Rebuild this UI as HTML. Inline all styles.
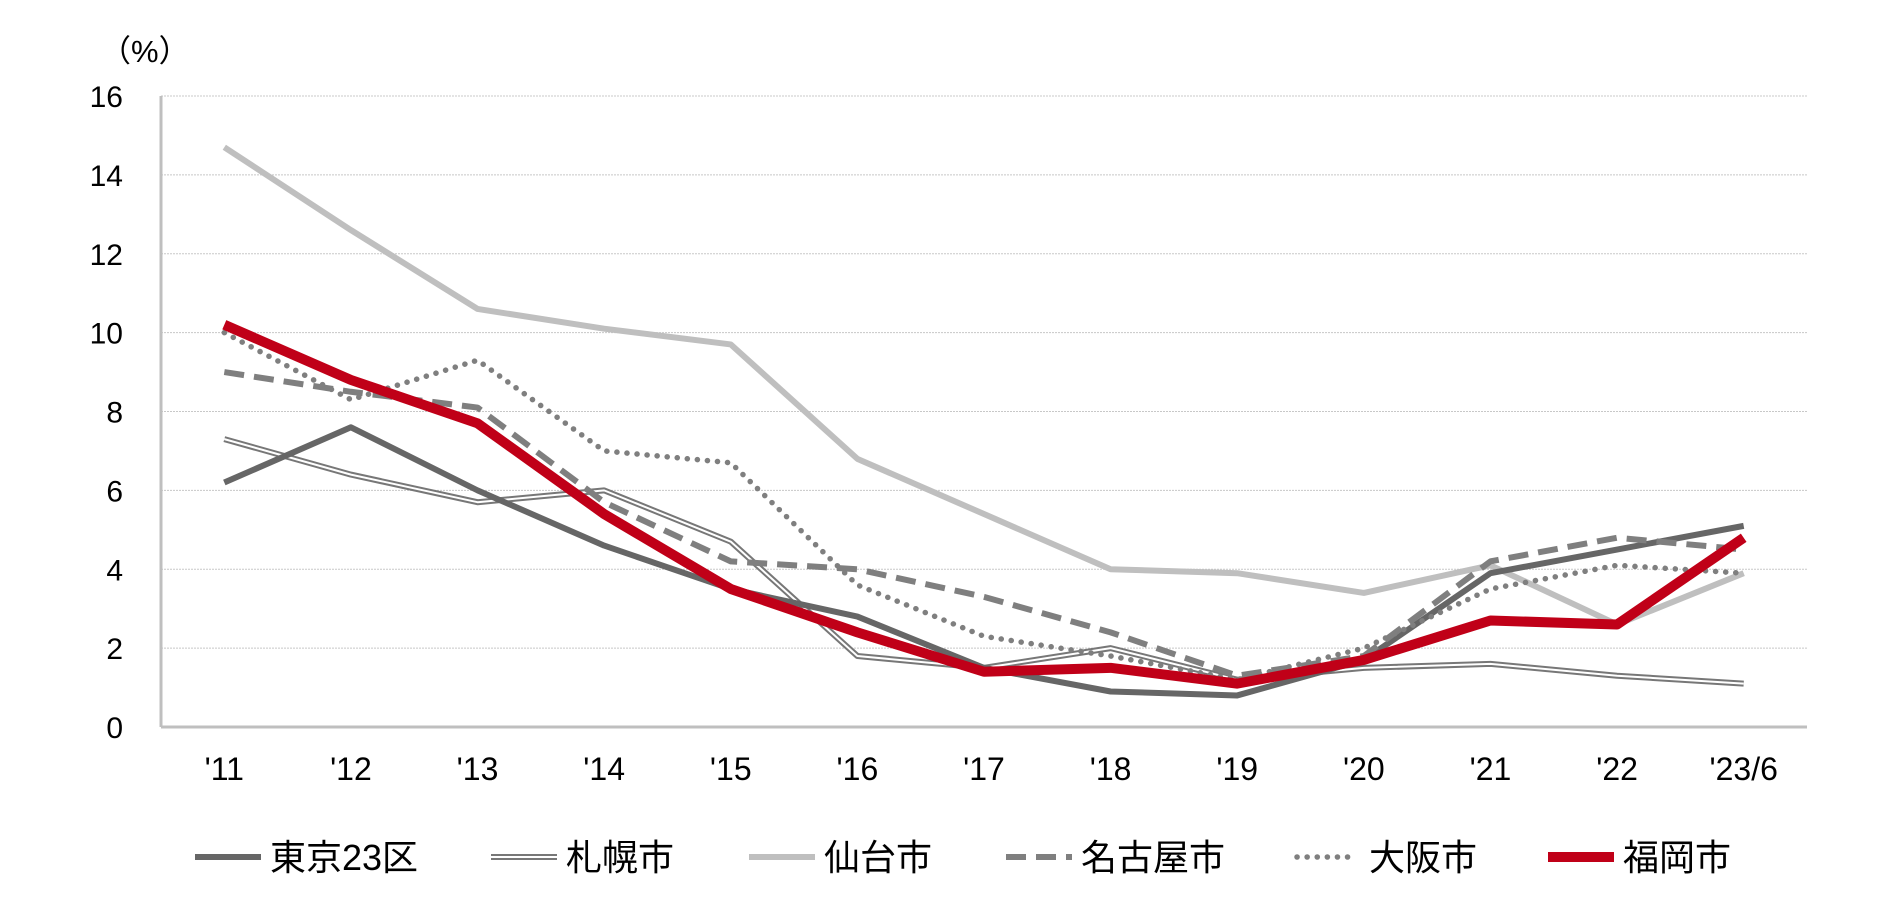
<!DOCTYPE html>
<html><head><meta charset="utf-8"><style>
body{margin:0;background:#fff;}
svg{display:block;font-family:"Liberation Sans","Noto Sans CJK JP",sans-serif;}
</style></head><body>
<svg id="chart" width="1881" height="905" viewBox="0 0 1881 905">
<text x="100" y="62" font-size="31" fill="#000">（%）</text>
<g id="grid"></g><g id="axes"></g><g id="series"></g><g id="legend"></g>
</svg>
<script>
const categories=["'11","'12","'13","'14","'15","'16","'17","'18","'19","'20","'21","'22","'23/6"];
const yTicks=[0,2,4,6,8,10,12,14,16];
const tokyo=[6.2,7.6,6.0,4.6,3.5,2.8,1.5,0.9,0.8,1.7,3.9,4.5,5.1];
const sapporo=[7.3,6.4,5.7,6.0,4.7,1.8,1.5,2.0,1.2,1.5,1.6,1.3,1.1];
const sendai=[14.7,12.6,10.6,10.1,9.7,6.8,5.4,4.0,3.9,3.4,4.1,2.6,3.9];
const nagoya=[9.0,8.5,8.1,5.7,4.2,4.0,3.3,2.4,1.3,1.8,4.2,4.8,4.5];
const osaka=[10.0,8.3,9.3,7.0,6.7,3.6,2.3,1.8,1.2,2.0,3.5,4.1,3.9];
const fukuoka=[10.2,8.8,7.7,5.4,3.5,2.4,1.4,1.5,1.1,1.7,2.7,2.6,4.8];
const seriesNames=["東京23区","札幌市","仙台市","名古屋市","大阪市","福岡市"];

const NS="http://www.w3.org/2000/svg";
const L=161,R=1807,T=96,B=727;
const bw=(R-L)/categories.length;
function x(i){return L+bw*(i+0.5);}
function y(v){return B-(v/16)*(B-T);}
function mk(tag,attrs,parent){const e=document.createElementNS(NS,tag);for(const k in attrs)e.setAttribute(k,attrs[k]);parent.appendChild(e);return e;}
const grid=document.getElementById('grid'),axes=document.getElementById('axes'),ser=document.getElementById('series'),leg=document.getElementById('legend');
yTicks.forEach(v=>{
  if(v>0){const g=mk('line',{x1:L,x2:R,y1:y(v),y2:y(v),stroke:'#c8c8c8','stroke-width':1,'stroke-dasharray':'2 1'},grid);
  
  }
  const t=mk('text',{x:123,y:y(v)+11,'font-size':30,'text-anchor':'end',fill:'#000'},axes);t.textContent=v;
  
  
});
const ya=mk('line',{x1:L,x2:L,y1:T,y2:B,stroke:'#bfbfbf','stroke-width':3},axes);


const xa=mk('line',{x1:L,x2:R,y1:B,y2:B,stroke:'#bfbfbf','stroke-width':3},axes);


categories.forEach((c,i)=>{const t=mk('text',{x:x(i),y:780,'font-size':32,'text-anchor':'middle',fill:'#000'},axes);t.textContent=c;
  
  });
function pts(d){return d.map((v,i)=>x(i)+','+y(v)).join(' ');}
const styles=[
 {d:tokyo,s:[{stroke:'#666666','stroke-width':6}]},
 {d:sapporo,s:[{stroke:'#777777','stroke-width':6},{stroke:'#ffffff','stroke-width':2}]},
 {d:sendai,s:[{stroke:'#bfbfbf','stroke-width':6}]},
 {d:nagoya,s:[{stroke:'#7f7f7f','stroke-width':6,'stroke-dasharray':'20 10'}]},
 {d:osaka,s:[{stroke:'#7f7f7f','stroke-width':5.5,'stroke-dasharray':'0.1 10','stroke-linecap':'round'}]},
 {d:fukuoka,s:[{stroke:'#c00018','stroke-width':10}]}
];
const names=['tokyo-line','sapporo-line','sendai-line','nagoya-line','osaka-line','fukuoka-line'];
const order=[2,1,0,3,4,5];
order.forEach(k=>{const st=styles[k];st.s.forEach(a=>{
  const p=mk('polyline',Object.assign({points:pts(st.d),fill:'none','stroke-linejoin':'round'},a),ser);
  
  });});
const lx=[195,491,749,1006,1294,1548];
seriesNames.forEach((n,k)=>{
  const g=mk('g',{},leg);
  
  
  styles[k].s.forEach(a=>{const o=Object.assign({'stroke-linecap':'butt'},a,{x1:lx[k],x2:lx[k]+66,y1:857,y2:857});
    if(k===4){o.x1=lx[k]+3;o.x2=lx[k]+63;}
    mk('line',o,g);});
  const t=mk('text',{x:lx[k]+75,y:870,'font-size':36,fill:'#000'},g);t.textContent=n;
});
</script>
</body></html>
